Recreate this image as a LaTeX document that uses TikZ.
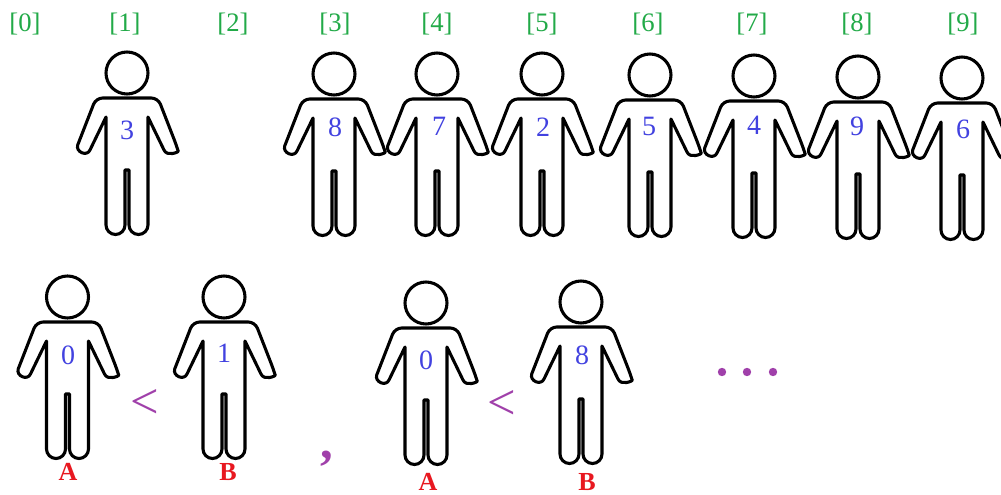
\documentclass[tikz,border=0pt]{standalone}
\usepackage{fontspec}
\setmainfont{Liberation Serif}
\definecolor{idxgreen}{RGB}{34,170,72}
\definecolor{numblue}{RGB}{66,66,224}
\definecolor{cmppurple}{RGB}{160,64,170}
\definecolor{tagred}{RGB}{232,24,32}
\tikzset{
  figline/.style={line width=2.3pt, line join=round, black},
  idx/.style={text=idxgreen, font=\fontsize{20}{22}\selectfont, inner sep=0pt},
  num/.style={text=numblue, font=\fontsize{21}{23}\selectfont, inner sep=0pt},
  cmp/.style={text=cmppurple, font=\fontsize{38}{40}\selectfont, inner sep=0pt},
  tag/.style={text=tagred, font=\bfseries\fontsize{19.5}{21}\selectfont, inner sep=0pt},
  dot/.style={fill=cmppurple, draw=none},
  % a standing person; origin is the middle of the shoulder line
  person/.pic={
    \draw[figline] (0,-25) circle[radius=21];
    \draw[figline] (-49.3,47) [rounded corners=5] -- (-31,0) -- (31,0) -- (49.3,47) [sharp corners]
      .. controls (51.5,54) and (40,59) .. (37,52) -- (21,19) -- (21,127)
      arc[start angle=0, end angle=180, radius=9.5] -- (2,72) -- (-2,72) -- (-2,127)
      arc[start angle=0, end angle=180, radius=9.5] -- (-21,19) -- (-37,52)
      .. controls (-40,59) and (-51.5,54) .. (-49.3,47) -- cycle;
  }
}
\begin{document}
\begin{tikzpicture}[x=0.75pt, y=-0.75pt]
\useasboundingbox[fill=white] (0,0) rectangle (1001,495);

% array indices
\foreach \i/\x in {0/25, 1/125, 2/233, 3/335, 4/437, 5/542, 6/648, 7/752, 8/857, 9/963}
  \node[idx] (idx\i) at (\x,24) {[\i]};

% people standing in the array slots
\foreach \n/\cx/\sy/\v/\nx/\ny in {
    s1/127/98/3/127/130,
    s3/334/99/8/335/127,
    s4/437/99/7/439/126,
    s5/542/99/2/543/127,
    s6/650/100/5/649/126,
    s7/754/101/4/754/125,
    s8/858/102/9/857/126,
    s9/962/103/6/963/129} {
  \pic (\n) at (\cx,\sy) {person};
  \node[num] (\n v) at (\nx,\ny) {\v};
}

% first comparison
\pic (a1) at (67.5,322) {person};
\node[num] (a1v) at (68,355) {0};
\pic (b1) at (224,322) {person};
\node[num] (b1v) at (224,353) {1};
\node[cmp] (lt1) at (145,404) {<};
\node[tag] (a1t) at (68,472) {A};
\node[tag] (b1t) at (228,472) {B};

\node[cmp] (sep) at (327,459) {\textbf{,}};

% second comparison
\pic (a2) at (426,328) {person};
\node[num] (a2v) at (426,360) {0};
\pic (b2) at (581,327) {person};
\node[num] (b2v) at (582,355) {8};
\node[cmp] (lt2) at (502,405) {<};
\node[tag] (a2t) at (428,482) {A};
\node[tag] (b2t) at (587,482) {B};

% ellipsis
\fill[dot] (722,372) circle[radius=4.2];
\fill[dot] (747,372) circle[radius=4.2];
\fill[dot] (773,372) circle[radius=4.2];
\end{tikzpicture}
\end{document}
